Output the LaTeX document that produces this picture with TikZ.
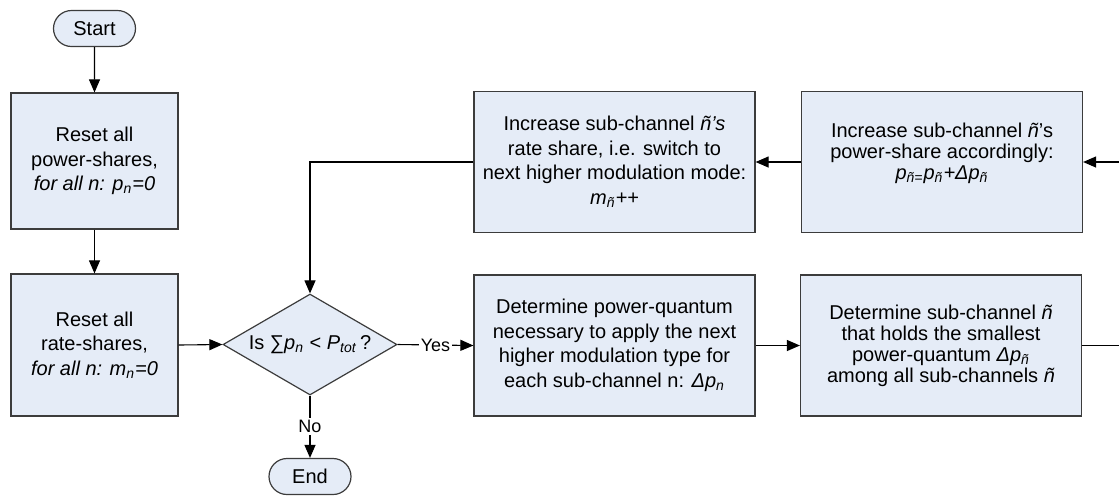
\documentclass[tikz,border=0pt]{standalone}
\usepackage{fontspec}
\setmainfont{Liberation Sans}
\usetikzlibrary{shapes.geometric,shapes.misc,arrows.meta}
\definecolor{boxfill}{RGB}{229,236,247}
\definecolor{boxline}{RGB}{60,60,60}
\tikzset{
  base/.style={draw=boxline, line width=0.6pt, fill=boxfill, align=center,
    font=\fontsize{10}{12.3}\selectfont, inner sep=1pt},
  terminal/.style={base, rounded rectangle, minimum width=43pt, minimum height=18pt},
  procbox/.style={base, rectangle, minimum width=#1, minimum height=70.5pt},
  procbox/.default=140.5pt,
  tight/.style={font=\fontsize{10}{10.5}\selectfont},
  decision/.style={base, diamond, shape aspect=1.72, minimum width=87pt,
    minimum height=50.5pt, inner sep=0pt},
  flow/.style={line width=0.55pt, draw=black, -{Triangle[length=6.5pt,width=5.5pt]}},
  plain/.style={line width=0.55pt, draw=black},
  tag/.style={fill=white, inner sep=1pt, font=\fontsize{9}{10}\selectfont}
}
\newcommand{\ntil}{\textit{ñ}}
\begin{document}
\begin{tikzpicture}[x=0.5pt,y=-0.5pt]
\useasboundingbox (0,0) rectangle (1119,495);

% terminals
\node[terminal] (start) at (94.5,28.5) {Start};
\node[terminal] (stop) at (310,476.5) {End};

% left column
\node[procbox=83.5pt, minimum height=68pt] (resetp) at (94.5,161)
  {Reset all\\power-shares,\\\textit{for all n: p\textsubscript{n}=0}};
\node[procbox=83.5pt, minimum height=71pt] (resetm) at (94.5,345)
  {Reset all\\rate-shares,\\\textit{for all n: m\textsubscript{n}=0}};

% decision
\node[decision] (check) at (310,344.5)
  {Is ∑\textit{p\textsubscript{n}} < \textit{P\textsubscript{tot}}\,?};

% lower row
\node[procbox] (quantum) at (614.5,345.5)
  {Determine power-quantum\\necessary to apply the next\\higher modulation type for\\each sub-channel n: \textit{Δp\textsubscript{n}}};
\node[procbox, tight] (select) at (941,345.5)
  {Determine sub-channel \ntil\\that holds the smallest\\power-quantum \textit{Δp\textsubscript{ñ}}\\among all sub-channels \ntil};

% upper row (the power box keeps a blank last line)
\node[procbox, tight] (power) at (942,162)
  {Increase sub-channel \ntil’s\\power-share accordingly:\\\textit{p\textsubscript{ñ=}p\textsubscript{ñ}+Δp\textsubscript{ñ}}\\\mbox{}};
\node[procbox] (rate) at (614.5,162)
  {Increase sub-channel \textit{ñ’s}\\rate share, i.e. switch to\\next higher modulation mode:\\\textit{m\textsubscript{ñ}++}};

% loop ends leaving the right border
\coordinate (outR) at (1119,345.5);
\coordinate (inR) at (1119,162);

% connectors
\draw[flow] (start) -- (resetp);
\draw[flow] (resetp) -- (resetm);
\draw[flow] (resetm.east) -- (check.west);
\draw[flow] (check.east) -- node[tag] {Yes} (quantum.west);
\draw[flow] (check.south) -- node[tag] {No} (stop.north);
\draw[flow] (quantum.east) -- (select.west);
\draw[plain] (select.east) -- (outR);
\draw[flow] (inR) -- (power.east);
\draw[flow] (power.west) -- (rate.east);
\draw[flow] (rate.west) -| (check.north);
\end{tikzpicture}
\end{document}
